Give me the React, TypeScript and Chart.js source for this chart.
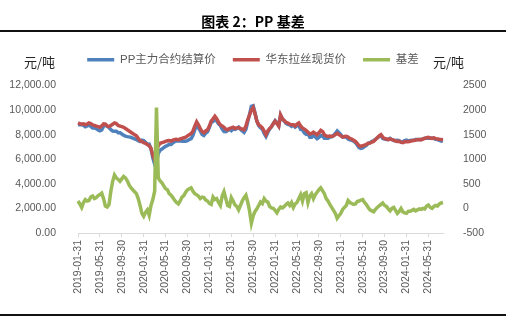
import React, { useEffect, useRef } from 'react';
import { Chart, registerables } from 'chart.js';

Chart.register(...registerables);

const TITLE = '图表 2：PP 基差';
const UNIT = '元/吨';
const SERIES_NAMES = ['PP主力合约结算价', '华东拉丝现货价', '基差'];
const TICK_LABELS = [
  '2019-01-31', '2019-05-31', '2019-09-30', '2020-01-31', '2020-05-31', '2020-09-30',
  '2021-01-31', '2021-05-31', '2021-09-30', '2022-01-31', '2022-05-31', '2022-09-30',
  '2023-01-31', '2023-05-31', '2023-09-30', '2024-01-31', '2024-05-31',
];

// categories: month-end 2019-01-31, then the 10th, 20th and last day of each month up to 2024-08-20
function buildDates(): string[] {
  const out = ['2019-01-31'];
  let y = 2019;
  let m = 2;
  while (y < 2024 || (y === 2024 && m <= 8)) {
    const mm = String(m).padStart(2, '0');
    const last = new Date(Date.UTC(y, m, 0)).getUTCDate();
    const days = y === 2024 && m === 8 ? [10, 20] : [10, 20, last];
    for (const d of days) out.push(`${y}-${mm}-${String(d).padStart(2, '0')}`);
    m++;
    if (m > 12) { m = 1; y++; }
  }
  return out;
}
const DATES = buildDates();

// PP主力合约结算价 (left axis, 元/吨)
const FUTURES = [
  8800, 8810, 8830, 8760, 8640, 8710, 8790, 8670, 8550, 8550, 8480,
  8390, 8320, 8390, 8680, 8800, 8670, 8570, 8400, 8300, 8270,
  8280, 8160, 8150, 8050, 7950, 7880, 7840, 7820, 7780, 7720,
  7660, 7600, 7500, 7440, 7550, 7510, 7380, 7230, 7240, 6840,
  6120, 5600, 5700, 6480, 6740, 6830, 6940, 7050, 7120, 7220,
  7210, 7330, 7440, 7500, 7490, 7500, 7470, 7490, 7470, 7520,
  7600, 7680, 7950, 8400, 8770, 8550, 8300, 8020, 7930, 8130,
  8250, 8600, 9020, 9070, 9320, 9100, 8880, 8740, 8450, 8260,
  8250, 8340, 8460, 8330, 8450, 8430, 8510, 8610, 8440, 8300,
  8180, 8430, 9070, 9650, 10300, 10350, 9760, 9110, 8740, 8570,
  8450, 8100, 7850, 8170, 8460, 8640, 8900, 9140, 8990, 8720,
  9570, 9290, 9110, 8920, 8840, 8790, 8680, 8780, 8610, 8730,
  8750, 8420, 8400, 8150, 8030, 8080, 7800, 7800, 8000, 7820,
  7670, 7770, 7930, 7890, 7700, 7700, 7700, 7800, 7830, 7940,
  8100, 8300, 8150, 8000, 7820, 7830, 7800, 7640, 7580, 7550,
  7470, 7360, 7160, 6950, 6880, 6920, 7030, 7120, 7280, 7350,
  7450, 7520, 7620, 7730, 7850, 7920, 7690, 7640, 7610, 7610,
  7700, 7600, 7530, 7520, 7550, 7520, 7400, 7420, 7510, 7550,
  7490, 7520, 7540, 7540, 7610, 7610, 7610, 7600, 7650, 7710,
  7700, 7710, 7700, 7700, 7700, 7620, 7600, 7530, 7490, 7460,
];

// 华东拉丝现货价 (left axis, 元/吨)
const SPOT = [
  8950, 8900, 8850, 8880, 8820, 8860, 8950, 8900, 8800, 8750, 8700,
  8650, 8600, 8700, 8880, 8850, 8700, 8650, 8750, 8850, 8950,
  8900, 8750, 8700, 8650, 8600, 8500, 8400, 8300, 8200, 8100,
  8000, 7900, 7700, 7500, 7450, 7350, 7300, 7200, 7100, 6900,
  6300, 5950, 6700, 7100, 7300, 7350, 7400, 7450, 7500, 7520,
  7480, 7550, 7600, 7620, 7580, 7650, 7700, 7750, 7800, 7900,
  8000, 8100, 8300, 8700, 9050, 8800, 8500, 8250, 8150, 8300,
  8400, 8700, 9100, 9300, 9500, 9300, 9000, 8800, 8700, 8600,
  8450, 8400, 8500, 8550, 8600, 8500, 8550, 8580, 8500, 8450,
  8400, 8700, 9200, 9600, 10000, 10200, 9700, 9100, 8800, 8700,
  8550, 8300, 8000, 8300, 8500, 8650, 8900, 9100, 8900, 8700,
  9600, 9300, 9150, 9000, 8950, 8850, 8800, 8800, 8700, 8850,
  8950, 8700, 8550, 8450, 8350, 8200, 8050, 8100, 8200, 8100,
  8000, 8150, 8350, 8250, 8000, 7900, 7850, 7880, 7850, 7900,
  8000, 8100, 8000, 7900, 7800, 7850, 7860, 7800, 7700, 7650,
  7550, 7450, 7300, 7100, 7050, 7100, 7150, 7200, 7300, 7320,
  7400, 7450, 7600, 7750, 7900, 8000, 7800, 7700, 7650, 7600,
  7650, 7600, 7550, 7480, 7450, 7460, 7400, 7350, 7420, 7450,
  7430, 7460, 7500, 7520, 7560, 7580, 7600, 7580, 7650, 7700,
  7750, 7780, 7720, 7700, 7740, 7680, 7650, 7620, 7600, 7580,
];

// 基差 (right axis, 元/吨)
const BASIS = [
  150, 90, 20, 120, 180, 150, 160, 230, 250, 200, 220,
  260, 280, 310, 200, 50, 30, 80, 350, 550, 680,
  620, 590, 550, 600, 650, 620, 560, 480, 420, 380,
  340, 300, 200, 60, -100, -160, -80, -30, -140, 60,
  180, 350, 2050, 620, 560, 520, 460, 400, 380, 300,
  270, 220, 160, 120, 90, 150, 230, 260, 330, 380,
  400, 420, 350, 300, 280, 250, 200, 230, 220, 170,
  150, 100, 80, 230, 180, 200, 120, 60, 250, 340,
  200, 60, 40, 220, 150, 70, 40, -30, 60, 150,
  220, 270, 130, -50, -300, -150, -60, -10, 60, 130,
  100, 200, 150, 130, 40, 10, 0, -40, -90, -20,
  30, 10, 40, 80, 110, 60, 120, 20, 90, 120,
  200, 280, 150, 300, 320, 120, 250, 300, 200, 280,
  330, 380, 420, 360, 300, 200, 150, 80, 20, -40,
  -100, -200, -150, -100, -20, 20, 60, 160, 120, 100,
  80, 90, 140, 150, 170, 180, 120, 80, 20, -30,
  -50, -70, -20, 20, 50, 80, 110, 60, 40, -10,
  -50, 0, 20, -40, -100, -60, 0, -70, -90, -100,
  -60, -60, -40, -20, -50, -30, -10, -20, 0, -10,
  50, 70, 20, 0, 40, 60, 50, 90, 110, 120,
];

const LEFT_MIN = 0;
const LEFT_MAX = 12000;
const LEFT_STEP = 2000;
const RIGHT_MIN = -500;
const RIGHT_MAX = 2500;
const RIGHT_STEP = 500;

const COLORS = ['#4F81BD', '#C0504D', '#9BBB59'];
const TICK_COLOR = '#595959';
const LATIN = '"Liberation Sans", "Noto Sans CJK SC", sans-serif';
const CJK = '"Noto Sans CJK SC", "Liberation Sans", sans-serif';

const unitPlugin = {
  id: 'unitLabels',
  afterDraw(chart: any) {
    const { ctx, chartArea } = chart;
    ctx.save();
    ctx.font = `13px ${CJK}`;
    ctx.fillStyle = '#262626';
    ctx.textBaseline = 'middle';
    ctx.textAlign = 'left';
    ctx.fillText(UNIT, chartArea.left - 54, chartArea.top - 23);
    ctx.fillText(UNIT, chartArea.right - 10, chartArea.top - 23);
    ctx.restore();
  },
};

export default function App() {
  const canvasRef = useRef<HTMLCanvasElement | null>(null);

  useEffect(() => {
    const canvas = canvasRef.current;
    if (!canvas) return;
    const lineDs = (label: string, data: number[], color: string, axis: string, order: number) => ({
      label,
      data,
      borderColor: color,
      backgroundColor: color,
      borderWidth: 3.5,
      pointRadius: 0,
      pointHoverRadius: 0,
      tension: 0,
      yAxisID: axis,
      order,
    });
    const chart = new Chart(canvas, {
      type: 'line',
      data: {
        labels: DATES,
        datasets: [
          lineDs(SERIES_NAMES[0], FUTURES, COLORS[0], 'yL', 2),
          lineDs(SERIES_NAMES[1], SPOT, COLORS[1], 'yL', 1),
          lineDs(SERIES_NAMES[2], BASIS, COLORS[2], 'yR', 0),
        ],
      },
      options: {
        responsive: false,
        animation: false,
        layout: { padding: { top: 37, left: 0, right: 0, bottom: 0 } },
        plugins: {
          tooltip: { enabled: false },
          title: { display: false },
          subtitle: { display: true, text: '', weight: 500, padding: 0, font: { size: 10, lineHeight: 1 } },
          legend: {
            display: true,
            position: 'top',
            labels: {
              boxWidth: 27,
              boxHeight: 0,
              padding: 17,
              color: TICK_COLOR,
              font: { size: 11.5, family: LATIN },
              sort: (a: any, b: any) => a.datasetIndex - b.datasetIndex,
            },
          },
        },
        scales: {
          x: {
            type: 'category',
            offset: false,
            afterFit: (s: any) => { s.height = 88; },
            afterBuildTicks: (s: any) => {
              s.ticks = TICK_LABELS.map((l) => ({ value: DATES.indexOf(l) }));
            },
            grid: { display: true, drawOnChartArea: false, drawTicks: true, tickLength: 4, color: '#D9D9D9' },
            border: { display: true, color: '#D9D9D9', width: 1 },
            ticks: {
              autoSkip: false,
              minRotation: 90,
              maxRotation: 90,
              padding: 3,
              color: TICK_COLOR,
              font: { size: 10.5, family: LATIN },
            },
          },
          yL: {
            type: 'linear',
            position: 'left',
            min: LEFT_MIN,
            max: LEFT_MAX,
            afterFit: (s: any) => { s.width = 78; },
            grid: { display: false },
            border: { display: false },
            ticks: {
              stepSize: LEFT_STEP,
              padding: 14,
              color: TICK_COLOR,
              font: { size: 10.5, family: LATIN },
              callback: (v: any) => Number(v).toLocaleString('en-US', { minimumFractionDigits: 2, maximumFractionDigits: 2 }),
            },
          },
          yR: {
            type: 'linear',
            position: 'right',
            min: RIGHT_MIN,
            max: RIGHT_MAX,
            afterFit: (s: any) => { s.width = 63; },
            grid: { display: false },
            border: { display: false },
            ticks: {
              stepSize: RIGHT_STEP,
              padding: 12,
              color: TICK_COLOR,
              font: { size: 10.5, family: LATIN },
              callback: (v: any) => String(v),
            },
          },
        },
      },
      plugins: [unitPlugin],
    } as any);
    return () => chart.destroy();
  }, []);

  return (
    <div style={{ position: 'fixed', left: 0, top: 0, width: 506, height: 321, background: '#fff', overflow: 'hidden' }}>
      <canvas ref={canvasRef} width={506} height={321} style={{ position: 'absolute', left: 0, top: 0, width: 506, height: 321 }} />
      <div
        style={{
          position: 'absolute', left: 0, top: 12, width: 506, textAlign: 'center',
          font: `bold 14px ${CJK}`, lineHeight: '18px', color: '#000',
        }}
      >
        {TITLE}
      </div>
      <div style={{ position: 'absolute', left: 0, top: 30, width: 506, height: 2, background: '#111' }} />
      <div style={{ position: 'absolute', left: 0, top: 314, width: 506, height: 2, background: '#111' }} />
    </div>
  );
}
